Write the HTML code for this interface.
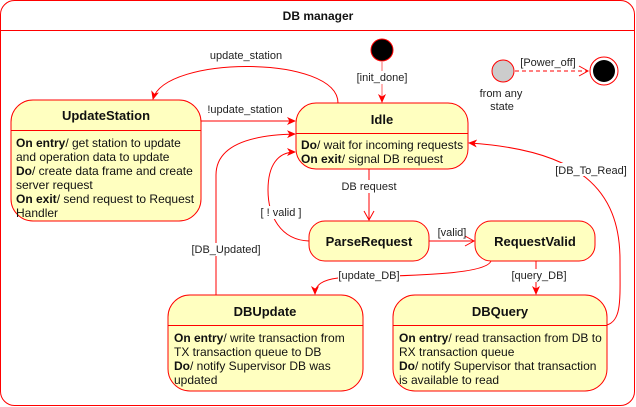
<!DOCTYPE html>
<html><head><meta charset="utf-8"><style>
html,body{margin:0;padding:0;background:#fff;}
svg{display:block;font-family:"Liberation Sans",sans-serif;}
.t{font-size:11px;fill:#222;text-anchor:middle;}
.b{font-size:12px;fill:#111;}
.h{font-size:13px;font-weight:bold;fill:#111;text-anchor:middle;}
</style></head><body>
<svg width="636" height="407" viewBox="0 0 636 407">
<defs>
<marker id="a" markerWidth="10" markerHeight="10" refX="8" refY="5" orient="auto" markerUnits="userSpaceOnUse"><path d="M0,1 L9,5 L0,9 L2.5,5 Z" fill="#f00"/></marker>
<marker id="o" markerWidth="12" markerHeight="12" refX="10" refY="6" orient="auto" markerUnits="userSpaceOnUse"><path d="M1,1 L10,6 L1,11" fill="none" stroke="#f00"/></marker>
</defs>
<rect x="0.5" y="0.5" width="634" height="405" rx="14" fill="#fff" stroke="#f00"/>
<line x1="0.5" y1="30.5" x2="634.5" y2="30.5" stroke="#f00"/>
<text x="318" y="20" class="h" style="font-size:12px">DB manager</text>

<!-- connectors -->
<g fill="none" stroke="#f00" stroke-width="1">
<line x1="382" y1="62" x2="382" y2="102" stroke="#f66" marker-end="url(#a)"/>
<path d="M338,103 C338,55 165,55 153,99" marker-end="url(#a)"/>
<line x1="201" y1="121" x2="295" y2="121" marker-end="url(#a)"/>
<path d="M216,295 L216,175 C216,145 250,135 295,134" marker-end="url(#a)"/>
<path d="M309,241 C280,240 268,215 268,190 C268,165 278,152 295,152" marker-end="url(#a)"/>
<line x1="369" y1="169" x2="369" y2="220" marker-end="url(#o)"/>
<line x1="429" y1="241" x2="474" y2="241" marker-end="url(#o)"/>
<path d="M491,261 C485,276 400,275 338,278 C322,280 315,285 315,294" marker-end="url(#a)"/>
<line x1="536" y1="261" x2="536" y2="294" marker-end="url(#a)"/>
<path d="M607,325 C622,320 620,300 620,260 C620,190 580,150 469,143" marker-end="url(#a)"/>
<line x1="515" y1="71" x2="588" y2="71" stroke-dasharray="4,3" marker-end="url(#o)"/>
</g>

<!-- labels -->
<g>
<rect x="356" y="71" width="52" height="13" fill="#fff"/><text x="382" y="81" class="t">[init_done]</text>
<text x="246" y="59" class="t">update_station</text>
<text x="245" y="113" class="t">!update_station</text>
<rect x="190" y="243" width="72" height="13" fill="#fff"/><text x="226" y="253" class="t">[DB_Updated]</text>
<rect x="258" y="206" width="46" height="13" fill="#fff"/><text x="281" y="216" class="t">[ ! valid ]</text>
<rect x="340" y="180" width="58" height="13" fill="#fff"/><text x="369" y="190" class="t">DB request</text>
<text x="452" y="236" class="t">[valid]</text>
<rect x="338" y="269" width="62" height="13" fill="#fff"/><text x="369" y="279" class="t">[update_DB]</text>
<rect x="510" y="269" width="58" height="13" fill="#fff"/><text x="539" y="279" class="t">[query_DB]</text>
<rect x="555" y="163" width="72" height="13" fill="#fff"/><text x="591" y="174" class="t">[DB_To_Read]</text>
<text x="548" y="66" class="t">[Power_off]</text>
<text x="501" y="97" class="t">from any</text>
<text x="502" y="110" class="t">state</text>
</g>

<!-- pseudo states -->
<circle cx="382" cy="50" r="11" fill="#000" stroke="#f00"/>
<circle cx="503" cy="71" r="11" fill="#ccc" stroke="#f00"/>
<circle cx="604" cy="71" r="14" fill="#fff" stroke="#f00"/>
<circle cx="604" cy="71" r="11" fill="#000"/>

<!-- states -->
<g fill="#ffffc0" stroke="#f00">
<rect x="11" y="100" width="190" height="121" rx="22"/>
<rect x="296" y="103" width="172" height="66" rx="20"/>
<rect x="309" y="221" width="120" height="40" rx="16"/>
<rect x="475" y="221" width="120" height="40" rx="16"/>
<rect x="168" y="295" width="195" height="96" rx="22"/>
<rect x="393" y="295" width="214" height="96" rx="22"/>
</g>
<g stroke="#f00">
<line x1="11" y1="130.5" x2="201" y2="130.5"/>
<line x1="296" y1="133.5" x2="468" y2="133.5"/>
<line x1="168" y1="325.5" x2="363" y2="325.5"/>
<line x1="393" y1="325.5" x2="607" y2="325.5"/>
</g>

<text x="106" y="120" class="h">UpdateStation</text>
<text class="b" x="16" y="147"><tspan font-weight="bold">On entry</tspan>/ get station to update</text>
<text class="b" x="16" y="161">and operation data to update</text>
<text class="b" x="16" y="175"><tspan font-weight="bold">Do</tspan>/ create data frame and create</text>
<text class="b" x="16" y="189">server request</text>
<text class="b" x="16" y="203"><tspan font-weight="bold">On exit</tspan>/ send request to Request</text>
<text class="b" x="16" y="217">Handler</text>

<text x="382" y="124" class="h">Idle</text>
<text class="b" x="301" y="149"><tspan font-weight="bold">Do</tspan>/ wait for incoming requests</text>
<text class="b" x="301" y="163"><tspan font-weight="bold">On exit</tspan>/ signal DB request</text>

<text x="369" y="246" class="h">ParseRequest</text>
<text x="535" y="246" class="h">RequestValid</text>

<text x="265" y="316" class="h">DBUpdate</text>
<text class="b" x="174" y="342"><tspan font-weight="bold">On entry</tspan>/  write transaction from</text>
<text class="b" x="174" y="356">TX transaction queue to DB</text>
<text class="b" x="174" y="370"><tspan font-weight="bold">Do</tspan>/ notify Supervisor DB was</text>
<text class="b" x="174" y="384">updated</text>

<text x="500" y="316" class="h">DBQuery</text>
<text class="b" x="399" y="342"><tspan font-weight="bold">On entry</tspan>/ read transaction from DB to</text>
<text class="b" x="399" y="356">RX transaction queue</text>
<text class="b" x="399" y="370"><tspan font-weight="bold">Do</tspan>/ notify Supervisor that transaction</text>
<text class="b" x="399" y="384">is available to read</text>
</svg>
</body></html>
